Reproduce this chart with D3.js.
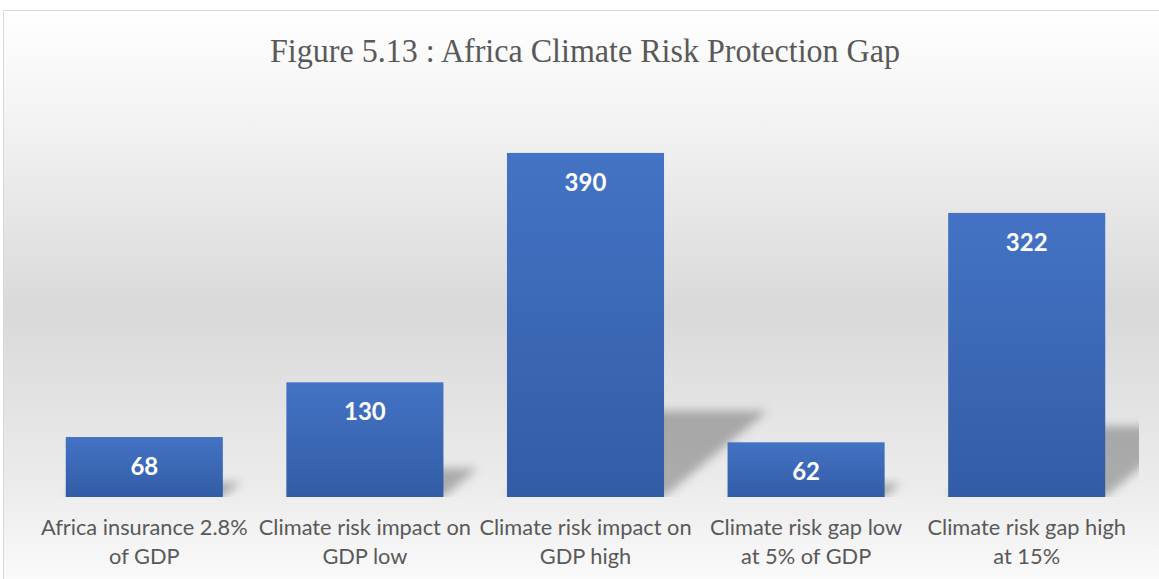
<!DOCTYPE html>
<html>
<head>
<meta charset="utf-8">
<script src="https://cdn.jsdelivr.net/npm/d3@7"></script>
<style>
  html, body { margin: 0; padding: 0; background: #ffffff; }
  svg { display: block; }
</style>
</head>
<body>
<svg id="chart" width="1159" height="579"></svg>
<script>
// Africa climate risk protection gap (USD bn)
const categories = [
  ["Africa insurance 2.8%", "of GDP"],
  ["Climate risk impact on", "GDP low"],
  ["Climate risk impact on", "GDP high"],
  ["Climate risk gap low", "at 5% of GDP"],
  ["Climate risk gap high", "at 15%"]
];
const values = [68, 130, 390, 62, 322];
const titleText = "Figure 5.13 : Africa Climate Risk Protection Gap";

const W = 1159, H = 579;
const svg = d3.select("#chart");
const defs = svg.append("defs");

// chart background: white -> light grey -> white
const bg = defs.append("linearGradient")
  .attr("id", "bgGrad").attr("x1", 0).attr("y1", 0).attr("x2", 0).attr("y2", 1);
bg.append("stop").attr("offset", "0%").attr("stop-color", "#ffffff");
bg.append("stop").attr("offset", "18%").attr("stop-color", "#f3f3f3");
bg.append("stop").attr("offset", "50%").attr("stop-color", "#d9d9d9");
bg.append("stop").attr("offset", "80%").attr("stop-color", "#ececec");
bg.append("stop").attr("offset", "100%").attr("stop-color", "#ffffff");

// bar fill
const barGrad = defs.append("linearGradient")
  .attr("id", "barGrad").attr("x1", 0).attr("y1", 0).attr("x2", 0).attr("y2", 1);
barGrad.append("stop").attr("offset", "0%").attr("stop-color", "#4473c5");
barGrad.append("stop").attr("offset", "100%").attr("stop-color", "#325ca6");

// soft shadow
defs.append("filter").attr("id", "blur")
  .attr("x", "-50%").attr("y", "-50%").attr("width", "200%").attr("height", "200%")
  .append("feGaussianBlur").attr("stdDeviation", 5);

svg.append("rect")
  .attr("x", 3.5).attr("y", 10.5).attr("width", 1200).attr("height", 600)
  .attr("fill", "url(#bgGrad)")
  .attr("stroke", "#d9d9d9").attr("stroke-width", 1);

// title
svg.append("text")
  .attr("x", 585).attr("y", 62)
  .attr("text-anchor", "middle")
  .attr("font-family", "'Liberation Serif', 'Times New Roman', serif")
  .attr("font-size", 33)
  .attr("textLength", 630)
  .attr("lengthAdjust", "spacingAndGlyphs")
  .attr("fill", "#595959")
  .text(titleText);

// scales
const x = d3.scaleBand()
  .domain(d3.range(values.length))
  .range([34, 1137])
  .paddingInner(0.288)
  .paddingOuter(0.144);
const y = d3.scaleLinear().domain([0, 450]).range([497, 100]);

const plotClip = defs.append("clipPath").attr("id", "plotClip");
plotClip.append("rect").attr("x", 34).attr("y", 90).attr("width", 1105).attr("height", 407);

// perspective shadows behind the bars
const skew = 1.2, squash = 0.25;
svg.append("g").attr("clip-path", "url(#plotClip)")
  .selectAll("path").data(values).join("path")
  .attr("d", (d, i) => {
    const x0 = x(i), x1 = x(i) + x.bandwidth();
    const b = y(0);
    const h = (y(0) - y(d)) * squash;
    const s = h * skew;
    return `M${x0},${b}L${x1},${b}L${x1 + s},${b - h}L${x0 + s},${b - h}Z`;
  })
  .attr("fill", "rgba(0,0,0,0.27)")
  .attr("filter", "url(#blur)");

// bars
svg.append("g").selectAll("rect").data(values).join("rect")
  .attr("x", (d, i) => x(i))
  .attr("y", d => y(d))
  .attr("width", x.bandwidth())
  .attr("height", d => y(0) - y(d))
  .attr("fill", "url(#barGrad)");

// value labels
svg.append("g").selectAll("text").data(values).join("text")
  .attr("x", (d, i) => x(i) + x.bandwidth() / 2)
  .attr("y", d => y(d) + 38)
  .attr("text-anchor", "middle")
  .attr("font-family", "Lato, 'Open Sans', sans-serif")
  .attr("font-weight", "bold")
  .attr("font-size", 24)
  .attr("fill", "#ffffff")
  .text(d => d);

// category labels
const cat = svg.append("g").selectAll("text").data(categories).join("text")
  .attr("text-anchor", "middle")
  .attr("font-family", "Lato, 'Open Sans', sans-serif")
  .attr("font-size", 21.8)
  .attr("fill", "#595959");
cat.each(function(lines, i) {
  const t = d3.select(this);
  lines.forEach((line, j) => {
    t.append("tspan")
      .attr("x", x(i) + x.bandwidth() / 2)
      .attr("y", 535 + j * 29)
      .text(line);
  });
});
</script>
</body>
</html>
